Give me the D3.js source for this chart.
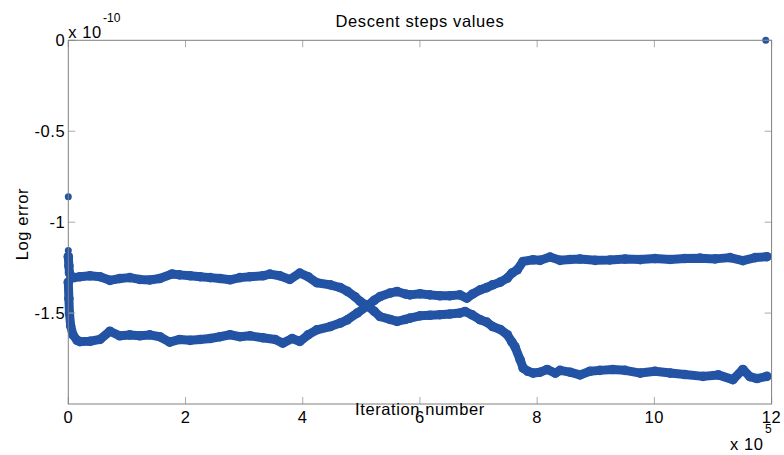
<!DOCTYPE html>
<html>
<head>
<meta charset="utf-8">
<script src="https://cdn.jsdelivr.net/npm/d3@7"></script>
<style>
  body { margin: 0; background: #fff; }
  svg text { font-family: "Liberation Sans", Arial, sans-serif; fill: #000; }
</style>
</head>
<body>
<svg id="chart" width="784" height="455"></svg>
<script>
// iteration (x 10^5) and log error (x 10^-10)
const iterA = [0, 0.01, 0.02, 0.05, 0.1, 0.2, 0.37, 0.54, 0.71, 0.88, 1.05, 1.22, 1.39, 1.56, 1.77, 1.90, 2.08, 2.25, 2.42, 2.59, 2.76, 2.93, 3.10, 3.32, 3.44, 3.61, 3.78, 3.95, 4.09, 4.24, 4.47, 4.64, 4.76, 4.89, 4.98, 5.10, 5.22, 5.32, 5.49, 5.61, 5.75, 5.83, 6.00, 6.17, 6.34, 6.51, 6.68, 6.77, 6.89, 7.03, 7.14, 7.24, 7.37, 7.49, 7.57, 7.62, 7.71, 7.76, 7.84, 7.93, 8.05, 8.17, 8.31, 8.39, 8.56, 8.73, 8.90, 9.07, 9.29, 9.50, 9.76, 10.01, 10.27, 10.52, 10.83, 11.09, 11.34, 11.51, 11.63, 11.75, 11.92];
const errA  = [-1.19, -1.24, -1.28, -1.30, -1.305, -1.30, -1.295, -1.30, -1.32, -1.31, -1.305, -1.315, -1.318, -1.31, -1.285, -1.29, -1.295, -1.30, -1.305, -1.31, -1.317, -1.305, -1.30, -1.295, -1.286, -1.295, -1.315, -1.28, -1.30, -1.333, -1.345, -1.36, -1.38, -1.41, -1.436, -1.46, -1.49, -1.519, -1.535, -1.546, -1.535, -1.528, -1.515, -1.512, -1.509, -1.505, -1.50, -1.491, -1.51, -1.537, -1.55, -1.574, -1.59, -1.619, -1.66, -1.684, -1.757, -1.802, -1.82, -1.83, -1.825, -1.81, -1.83, -1.815, -1.825, -1.84, -1.82, -1.815, -1.81, -1.815, -1.83, -1.82, -1.83, -1.838, -1.848, -1.84, -1.866, -1.81, -1.85, -1.86, -1.848];

const iterB = [0, 0.01, 0.02, 0.04, 0.08, 0.15, 0.2, 0.37, 0.54, 0.71, 0.88, 1.05, 1.22, 1.39, 1.56, 1.73, 1.90, 2.08, 2.25, 2.42, 2.59, 2.76, 2.93, 3.10, 3.32, 3.53, 3.66, 3.82, 3.95, 4.09, 4.24, 4.47, 4.64, 4.76, 4.93, 5.10, 5.22, 5.32, 5.49, 5.61, 5.75, 5.83, 6.00, 6.17, 6.34, 6.51, 6.68, 6.80, 6.90, 7.03, 7.14, 7.24, 7.37, 7.49, 7.57, 7.66, 7.76, 7.93, 8.05, 8.22, 8.39, 8.56, 8.73, 8.99, 9.24, 9.50, 9.76, 10.01, 10.27, 10.52, 10.78, 11.04, 11.29, 11.51, 11.72, 11.92];
const errB  = [-1.33, -1.42, -1.50, -1.57, -1.62, -1.65, -1.657, -1.655, -1.645, -1.60, -1.625, -1.62, -1.625, -1.62, -1.63, -1.66, -1.645, -1.65, -1.645, -1.64, -1.63, -1.619, -1.63, -1.625, -1.636, -1.645, -1.665, -1.64, -1.656, -1.62, -1.592, -1.574, -1.555, -1.537, -1.50, -1.46, -1.43, -1.409, -1.39, -1.381, -1.395, -1.40, -1.394, -1.40, -1.405, -1.405, -1.40, -1.418, -1.395, -1.372, -1.36, -1.345, -1.33, -1.308, -1.28, -1.262, -1.216, -1.207, -1.21, -1.192, -1.21, -1.205, -1.203, -1.21, -1.208, -1.203, -1.206, -1.20, -1.205, -1.20, -1.198, -1.202, -1.195, -1.212, -1.195, -1.19];

// isolated points
const iterSingle = [0, 0, 11.9];
const errSingle  = [-0.86, -1.156, 0];

const xTicks = [0, 2, 4, 6, 8, 10, 12];
const yTicks = [0, -0.5, -1, -1.5];

const svg = d3.select("#chart");
const plotLeft = 68.3, plotRight = 771.6, plotTop = 40.3, plotBottom = 404;
const blue = "#2353a4";

const x = d3.scaleLinear().domain([0, 12]).range([plotLeft, plotRight]);
const y = d3.scaleLinear().domain([-2, 0]).range([plotBottom, plotTop]);

const seriesA = iterA.map((d, i) => [d, errA[i]]);
const seriesB = iterB.map((d, i) => [d, errB[i]]);
const singles = iterSingle.map((d, i) => [d, errSingle[i]]);

const line = d3.line().x(d => x(d[0])).y(d => y(d[1]));

[seriesA, seriesB].forEach(s => {
    svg.append("path")
        .attr("d", line(s))
        .attr("fill", "none")
        .attr("stroke", blue)
        .attr("stroke-width", 9)
        .attr("stroke-linejoin", "round")
        .attr("stroke-linecap", "round");
    svg.append("g").selectAll("circle")
        .data(s)
        .join("circle")
        .attr("cx", d => x(d[0]))
        .attr("cy", d => y(d[1]))
        .attr("r", 4.8)
        .attr("fill", blue);
});

svg.append("g").selectAll("circle")
    .data(singles)
    .join("circle")
    .attr("cx", d => x(d[0]))
    .attr("cy", d => y(d[1]))
    .attr("r", 3.5)
    .attr("fill", blue);

// axes: ticks point inward, on all four sides
const tickLen = 7;
const tickColor = "#aaa";
xTicks.forEach(t => {
    svg.append("line").attr("x1", x(t)).attr("x2", x(t)).attr("y1", plotBottom).attr("y2", plotBottom - tickLen)
        .attr("stroke", tickColor);
    svg.append("line").attr("x1", x(t)).attr("x2", x(t)).attr("y1", plotTop).attr("y2", plotTop + tickLen)
        .attr("stroke", tickColor);
    svg.append("text")
        .attr("x", x(t)).attr("y", plotBottom + 19)
        .attr("text-anchor", "middle")
        .attr("font-size", 16.5).attr("letter-spacing", 0.6)
        .text(t);
});
yTicks.forEach(t => {
    svg.append("line").attr("x1", plotLeft).attr("x2", plotLeft + tickLen).attr("y1", y(t)).attr("y2", y(t))
        .attr("stroke", tickColor);
    svg.append("line").attr("x1", plotRight).attr("x2", plotRight - tickLen).attr("y1", y(t)).attr("y2", y(t))
        .attr("stroke", tickColor);
    svg.append("text")
        .attr("x", plotLeft - 3).attr("y", y(t) + 6)
        .attr("text-anchor", "end")
        .attr("font-size", 16.5).attr("letter-spacing", 0.6)
        .text(t);
});

svg.append("rect")
    .attr("x", plotLeft).attr("y", plotTop)
    .attr("width", plotRight - plotLeft).attr("height", plotBottom - plotTop)
    .attr("fill", "none")
    .attr("stroke", "#808080");

// exponent labels
svg.append("text").attr("x", plotLeft).attr("y", 38).attr("font-size", 16.5).attr("letter-spacing", 0.6).text("x 10");
svg.append("text").attr("x", 103).attr("y", 22).attr("font-size", 12).text("-10");
svg.append("text").attr("x", 730).attr("y", 450).attr("font-size", 16.5).attr("letter-spacing", 0.6).text("x 10");
svg.append("text").attr("x", 765).attr("y", 433).attr("font-size", 12).text("5");

svg.append("text")
    .attr("x", (plotLeft + plotRight) / 2).attr("y", 27)
    .attr("text-anchor", "middle")
    .attr("font-size", 16.5).attr("letter-spacing", 0.6)
    .text("Descent steps values");

svg.append("text")
    .attr("x", (plotLeft + plotRight) / 2).attr("y", 415)
    .attr("text-anchor", "middle")
    .attr("font-size", 16.5).attr("letter-spacing", 0.6)
    .text("Iteration number");

svg.append("text")
    .attr("transform", `translate(28, ${(plotTop + plotBottom) / 2 + 2}) rotate(-90)`)
    .attr("text-anchor", "middle")
    .attr("font-size", 16.5).attr("letter-spacing", 0.6)
    .text("Log error");
</script>
</body>
</html>
